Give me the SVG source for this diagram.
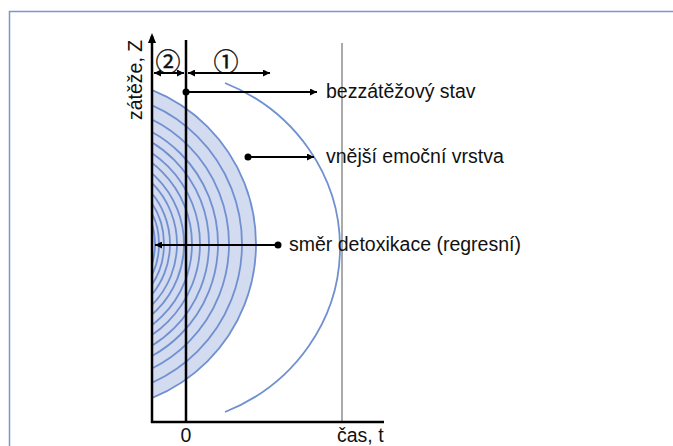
<svg xmlns="http://www.w3.org/2000/svg" width="673" height="446" viewBox="0 0 673 446">
<defs>
<style>
.lbl{font-family:"Liberation Sans",Arial,sans-serif;font-size:19.5px;fill:#111}
.num{font-family:"Noto Sans CJK JP","DejaVu Sans",sans-serif;font-size:25px;fill:#111;stroke:#111;stroke-width:0.4}
.ax{stroke:#000;stroke-width:2.5;fill:none}
.ring{fill:none;stroke:#7190d0;stroke-width:1.8}
.shade{fill:#d3dbf0;stroke:#7190d0;stroke-width:1.8}
.con{stroke:#000;stroke-width:2;fill:none}
</style>
<clipPath id="right"><rect x="152" y="0" width="400" height="446"/></clipPath>
<marker id="ah" viewBox="0 0 10 10" refX="10" refY="5" markerWidth="7" markerHeight="7" markerUnits="userSpaceOnUse" orient="auto-start-reverse"><path d="M0,0 L10,5 L0,10 z" fill="#000"/></marker>
</defs>
<rect id="frame" x="9.5" y="11.5" width="1000" height="1000" fill="#fff" stroke="#7f93d4" stroke-width="1.5"/>
<g id="detox-layers" clip-path="url(#right)">
<circle class="shade" cx="90" cy="244" r="166"/>
<circle class="ring" cx="90" cy="244" r="152"/>
<circle class="ring" cx="90" cy="244" r="139"/>
<circle class="ring" cx="90" cy="244" r="128"/>
<circle class="ring" cx="90" cy="244" r="119"/>
<circle class="ring" cx="90" cy="244" r="110"/>
<circle class="ring" cx="90" cy="244" r="102"/>
<circle class="ring" cx="90" cy="244" r="94"/>
<circle class="ring" cx="90" cy="244" r="87"/>
<circle class="ring" cx="90" cy="244" r="80"/>
<circle class="ring" cx="90" cy="244" r="74"/>
<circle class="ring" cx="90" cy="244" r="69"/>
<circle class="ring" cx="90" cy="244" r="65"/>
</g>
<g id="outer-layer">
<path d="M225,83 A188,178.5 0 0 1 225,412" fill="none" stroke="#7190d0" stroke-width="1.8"/>
</g>
<g id="axes">
<line x1="342" y1="43" x2="342" y2="422" stroke="#aaa" stroke-width="2"/>
<line class="ax" x1="186" y1="40" x2="186" y2="422"/>
<line class="ax" x1="152" y1="36" x2="152" y2="423"/>
<path d="M152,33 L148,43 L156,43 z" fill="#000"/>
<line class="ax" x1="151" y1="422" x2="384" y2="422"/>
<text class="lbl" transform="translate(142,120) rotate(-90)">zátěže, Z</text>
<text class="lbl" x="186" y="442" text-anchor="middle">0</text>
<text class="lbl" x="337" y="442">čas, t</text>
</g>
<g id="phase-2">
<text class="num" x="168" y="71" text-anchor="middle">②</text>
</g>
<g id="phase-1">
<text class="num" x="226" y="71" text-anchor="middle">①</text>
</g>
<g id="label-bezzatezovy">
<text class="lbl" x="326" y="98">bezzátěžový stav</text>
</g>
<g id="label-vnejsi">
<text class="lbl" x="326" y="163">vnější emoční vrstva</text>
</g>
<g id="label-smer">
<text class="lbl" x="289" y="251">směr detoxikace (regresní)</text>
</g>
<g id="connectors">
<line class="con" x1="154" y1="73" x2="184" y2="73" marker-start="url(#ah)" marker-end="url(#ah)"/>
<line class="con" x1="188" y1="73" x2="270" y2="73" marker-start="url(#ah)" marker-end="url(#ah)"/>
<circle cx="186" cy="92" r="3.5" fill="#000"/>
<line class="con" x1="186" y1="92" x2="317" y2="92" marker-end="url(#ah)"/>
<circle cx="248" cy="157" r="3.5" fill="#000"/>
<line class="con" x1="248" y1="157" x2="314" y2="157" marker-end="url(#ah)"/>
<circle cx="278" cy="245" r="3.5" fill="#000"/>
<line class="con" x1="278" y1="245" x2="155" y2="245" marker-end="url(#ah)"/>
</g>
</svg>
